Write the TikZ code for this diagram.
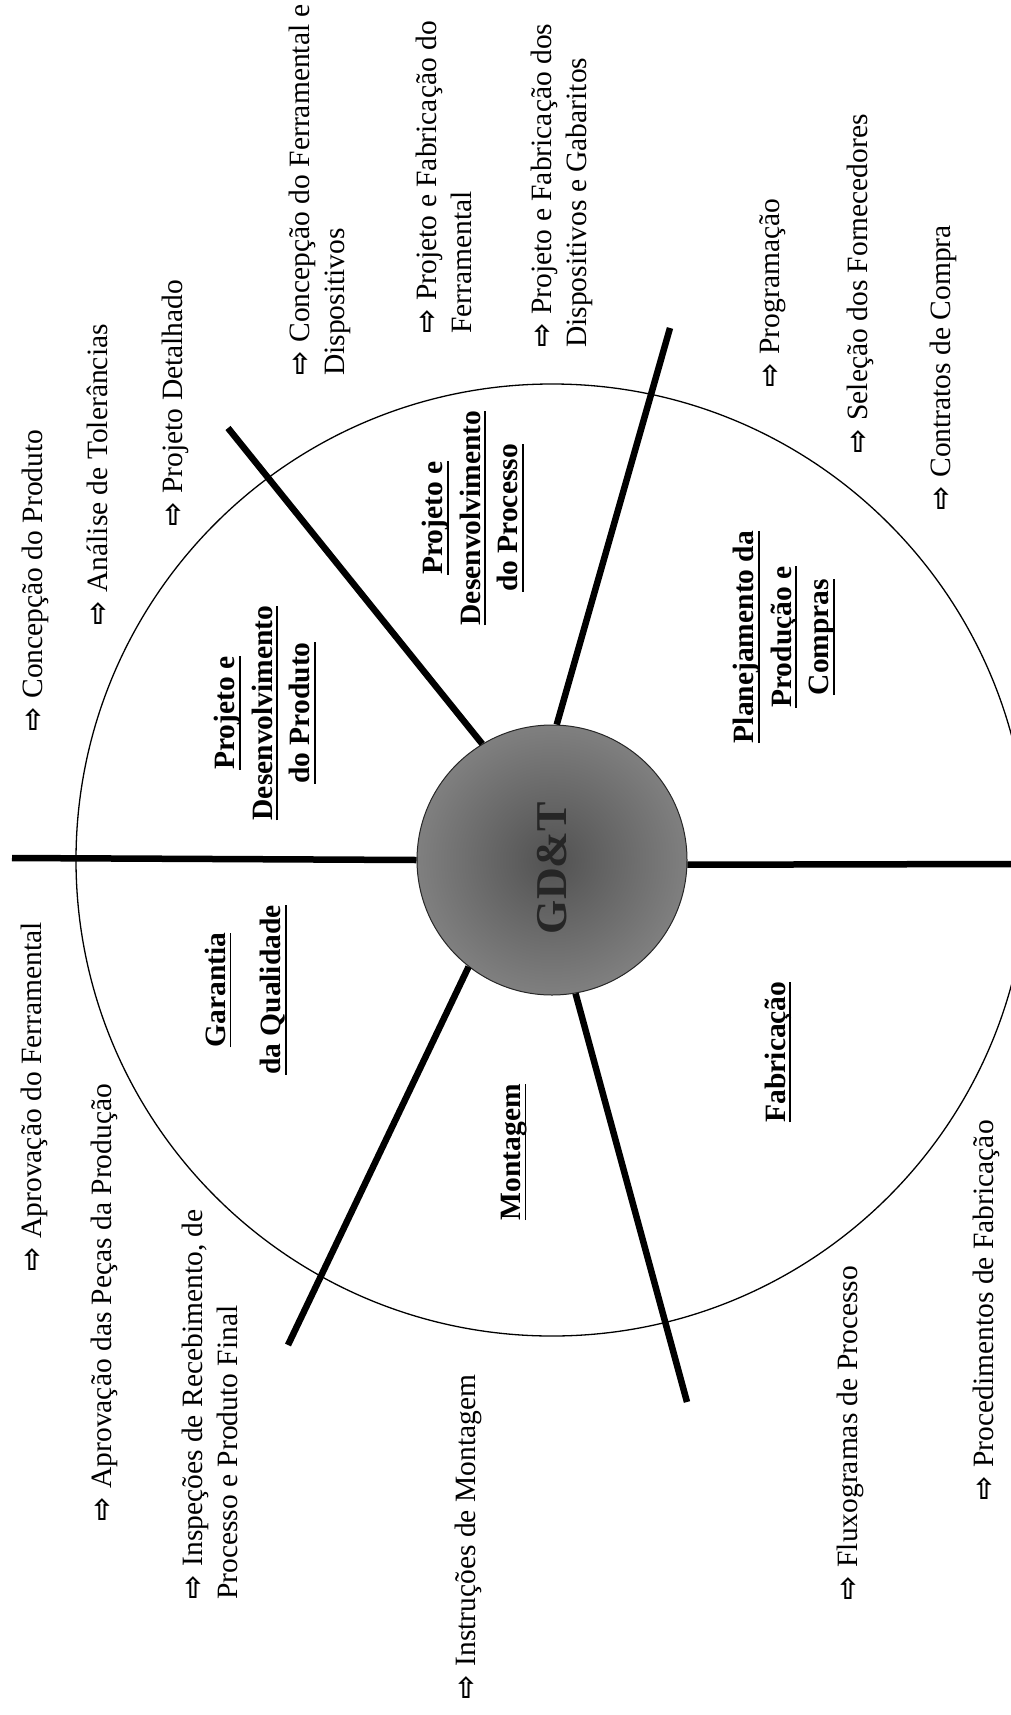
\documentclass[tikz,border=0pt]{standalone}
\usepackage{fontspec}
\setmainfont{Liberation Serif}
\newfontfamily\arrowfont{DejaVu Sans}
\newsavebox{\ulbox}
\newcommand{\uln}[1]{\sbox{\ulbox}{#1}\rlap{\rule[-6pt]{\wd\ulbox}{1.8pt}}\usebox{\ulbox}}
\newcommand{\itemfont}{\fontsize{29.5}{35}\selectfont}
\newcommand{\labelfont}{\fontsize{29.5}{37.5}\selectfont\bfseries}
\newcommand{\seta}{{\arrowfont\bfseries\fontsize{29}{29}\selectfont ⇨}\hspace{9pt}}

\begin{document}
\begin{tikzpicture}[x=1pt, y=-1pt,
  task/.style={rotate=90, anchor=west, align=left, inner sep=0pt, font=\itemfont},
  sector/.style={rotate=90, align=center, inner sep=0pt, font=\labelfont},
  spoke/.style={line width=6.5pt},
  rim/.style={circle, draw, line width=1.3pt, inner sep=0pt, minimum size=952pt}]
\useasboundingbox (0,0) rectangle (1010,1715);
\node[rim] (ring) at (552,860) {};
\node[circle, draw=black!85, line width=1pt, minimum size=270pt, inner sep=0pt,
  shading=radial, inner color=black!68, outer color=black!50] (gdt) at (552,860) {};
\node[rotate=90, inner sep=0pt, text=black!85, font=\fontsize{44}{44}\selectfont\bfseries] (gdtlabel) at (552,868) {GD\&T};
\coordinate (w)  at (12,858);
\coordinate (e)  at (1016,864);
\coordinate (nw) at (228,428);
\coordinate (ne) at (670,328);
\coordinate (sw) at (288,1345);
\coordinate (se) at (687,1402);
\draw[spoke] (gdt.180)   -- (w);
\draw[spoke] (gdt.358.5) -- (e);
\draw[spoke] (gdt.121.6) -- (nw);
\draw[spoke] (gdt.88.7)  -- (ne);
\draw[spoke] (gdt.232)   -- (sw);
\draw[spoke] (gdt.280.3) -- (se);
\node[sector] (pdprod)   at (265,713)  {\uln{Projeto e}\\\uln{Desenvolvimento}\\\uln{do Produto}};
\node[sector] (garantia) at (246,990)  {\uln{Garantia}\\[18pt]\uln{da Qualidade}};
\node[sector] (pdproc)   at (473,518)  {\uln{Projeto e}\\\uln{Desenvolvimento}\\\uln{do Processo}};
\node[sector] (planej)   at (784,637)  {\uln{Planejamento da}\\\uln{Produção e}\\\uln{Compras}};
\node[sector] (montagem) at (514,1152) {\uln{Montagem}};
\node[sector] (fabric)   at (778,1052) {\uln{Fabricação}};
\node[task] (concprod) at (35,732)  {\seta Concepção do Produto};
\node[task] (analise)  at (97,626)  {\seta Análise de Tolerâncias};
\node[task] (projdet)  at (175,527) {\seta Projeto Detalhado};
\node[task] (concferr) at (320,376) {\seta Concepção do Ferramental e\\Dispositivos};
\node[task] (fabferr)  at (444,334) {\seta Projeto e Fabricação do\\Ferramental};
\node[task] (fabdisp)  at (562,348) {\seta Projeto e Fabricação dos\\Dispositivos e Gabaritos};
\node[task] (program)  at (773,388) {\seta Programação};
\node[task] (selecao)  at (860,454) {\seta Seleção dos Fornecedores};
\node[task] (contrato) at (943,511) {\seta Contratos de Compra};
\node[task] (aprferr)  at (34,1272)  {\seta Aprovação do Ferramental};
\node[task] (aprpecas) at (104,1522) {\seta Aprovação das Peças da Produção};
\node[task] (inspec)   at (210,1600) {\seta Inspeções de Recebimento, de\\Processo e Produto Final};
\node[task] (instrmon) at (468,1700) {\seta Instruções de Montagem};
\node[task] (fluxo)    at (850,1601) {\seta Fluxogramas de Processo};
\node[task] (proced)   at (986,1501) {\seta Procedimentos de Fabricação};
\end{tikzpicture}
\end{document}
